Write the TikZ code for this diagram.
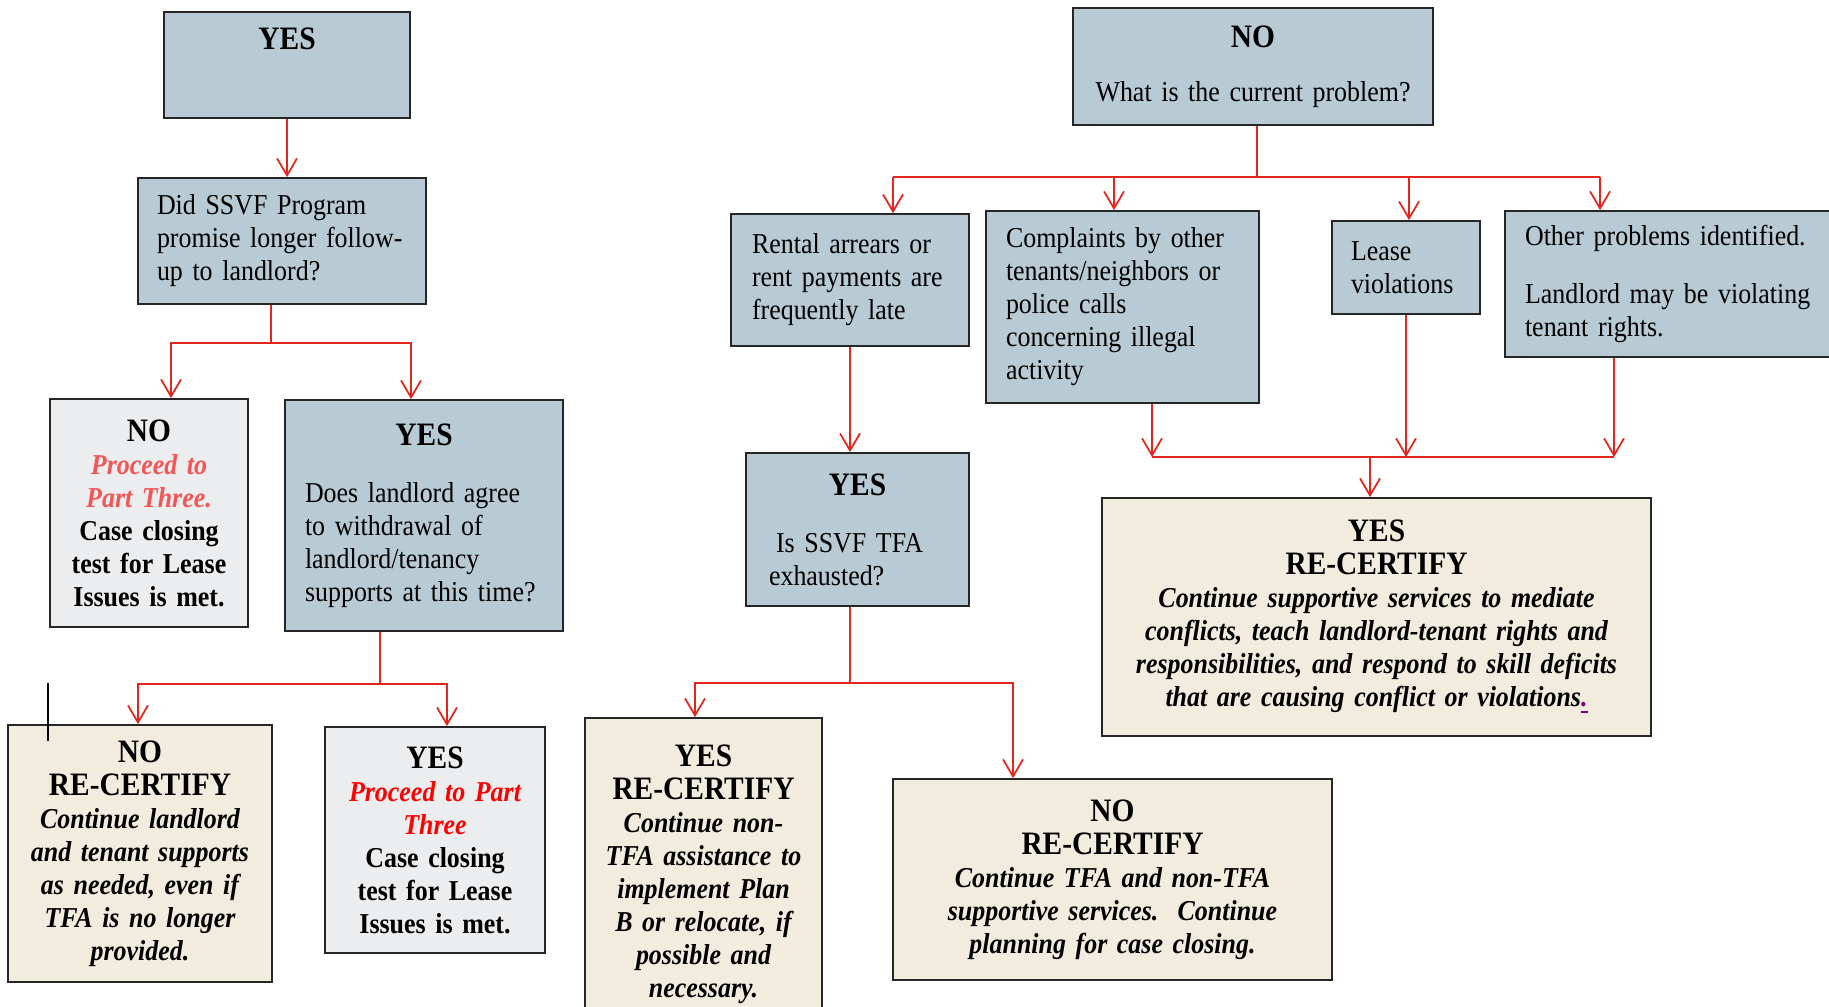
\documentclass[tikz,border=0pt]{standalone}
\usepackage{fontspec}
\setmainfont{Liberation Serif}[FakeStretch=0.9]
\usepackage{xcolor}
\usepackage{tikz}
\usetikzlibrary{arrows.meta}
\definecolor{askcolor}{RGB}{184, 202, 212}
\definecolor{endcolor}{RGB}{236, 237, 239}
\definecolor{recertcolor}{RGB}{241, 236, 221}
\definecolor{flowcolor}{RGB}{226, 38, 30}
\definecolor{softred}{RGB}{245, 85, 85}
\newcommand{\headtxt}[1]{{\fontsize{9.3}{9.4}\selectfont\bfseries #1}}

\begin{document}
\begin{tikzpicture}[x=0.1mm, y=-0.1mm,
    box/.style={draw=black!85, line width=0.5pt, inner ysep=0pt, font=\fontsize{8.2}{9.4}\selectfont},
    askbox/.style={box, fill=askcolor, align=left, inner xsep=2.1mm},
    endbox/.style={box, fill=endcolor, align=center, inner xsep=1mm},
    recertbox/.style={box, fill=recertcolor, align=center, inner xsep=1mm},
    flow/.style={draw=flowcolor, line width=0.5pt},
    >={Straight Barb[length=1.7mm, width=2mm]}]
        \useasboundingbox (0,0) rectangle (1829,1006);

        % Left branch: YES
        \node[askbox, align=center, inner xsep=1mm, text width=22.6mm, minimum height=10.6mm] (topyes) at (287,65) {\headtxt{YES}\\[1.9mm]\mbox{}};
        \node[askbox, inner xsep=1.9mm, text width=25mm, minimum height=12.6mm] (didssvf) at (282,241) {Did SSVF Program\\ promise longer follow-\\ up to landlord?};

        % Follow-up answers
        \node[endbox, text width=17.8mm, minimum height=22.8mm] (no1) at (149,513) {\headtxt{NO}\\ {\color{softred}\bfseries\itshape Proceed to\\ Part Three.}\\ {\bfseries Case closing\\ test for Lease\\ Issues is met.}};
        \node[askbox, inner xsep=2mm, text width=23.8mm, minimum height=23.1mm] (yes2) at (424,515.5) {\makebox[\linewidth][c]{\headtxt{YES}}\\[2.4mm] Does landlord agree\\ to withdrawal of\\ landlord/tenancy\\ supports at this time?};

        % Withdrawal answers
        \node[recertbox, text width=24.4mm, minimum height=25.7mm] (norecert) at (140,853.5) {\headtxt{NO}\\ \headtxt{RE-CERTIFY}\\ {\bfseries\itshape Continue landlord\\ and tenant supports\\ as needed, even if\\ TFA is no longer\\ provided.}};
        \node[endbox, text width=20mm, minimum height=22.6mm] (yesproceed) at (435,840) {\headtxt{YES}\\ {\color{red}\bfseries\itshape Proceed to Part\\ Three}\\ {\bfseries Case closing\\ test for Lease\\ Issues is met.}};

        % Right branch: NO
        \node[askbox, align=center, inner xsep=1mm, text width=34mm, minimum height=11.7mm] (notop) at (1253,66.5) {\headtxt{NO}\\[2.1mm] What is the current problem?};

        % Problems
        \node[askbox, text width=19.6mm, minimum height=13.2mm] (rental) at (850,280) {Rental arrears or\\ rent payments are\\ frequently late};
        \node[askbox, inner xsep=2mm, text width=23.3mm, minimum height=19.2mm] (complaints) at (1122.5,307) {Complaints by other\\ tenants/neighbors or\\ police calls\\ concerning illegal\\ activity};
        \node[askbox, inner xsep=1.9mm, text width=11mm, minimum height=9.3mm] (lease) at (1406,267.5) {Lease\\ violations};
        \node[askbox, inner xsep=2mm, text width=30mm, minimum height=14.6mm] (other) at (1675,284) {Other problems identified.\\[2.5mm] Landlord may be violating\\ tenant rights.};

        % TFA question and answers
        \node[askbox, inner xsep=2.3mm, text width=17.7mm, minimum height=15.3mm] (yestfa) at (857.5,529.5) {\makebox[\linewidth][c]{\headtxt{YES}}\\[2.4mm] \hspace*{0.7mm}Is SSVF TFA\\ exhausted?};
        \node[recertbox, text width=21.7mm, minimum height=31.2mm] (yesrecert) at (703.5,874) {\headtxt{YES}\\ \headtxt{RE-CERTIFY}\\ {\bfseries\itshape Continue non-\\ TFA assistance to\\ implement Plan\\ B or relocate, if\\ possible and\\ necessary.}};
        \node[recertbox, text width=41.9mm, minimum height=20.1mm] (norecert2) at (1112.5,879.5) {\headtxt{NO}\\ \headtxt{RE-CERTIFY}\\ {\bfseries\itshape Continue TFA and non-TFA\\ supportive services.\ \ Continue\\ planning for case closing.}};

        % Shared outcome
        \node[recertbox, text width=52.9mm, minimum height=23.8mm] (bigyes) at (1376.5,617) {\headtxt{YES}\\ \headtxt{RE-CERTIFY}\\ {\bfseries\itshape Continue supportive services to mediate\\ conflicts, teach landlord-tenant rights and\\ responsibilities, and respond to skill deficits\\ that are causing conflict or violations{\color{violet}\underline{.}}}};

        % Connections, left
        \draw[flow, ->] (topyes.south) -- (topyes.south |- didssvf.north);
        \coordinate (splitA) at (271,343);
        \coordinate (splitAl) at (171,343);
        \coordinate (splitAr) at (411,343);
        \draw[flow, ->] (didssvf.south -| splitA) -- (splitA) -- (splitAl) -- (splitAl |- no1.north);
        \draw[flow, ->] (splitA) -- (splitAr) -- (splitAr |- yes2.north);
        \coordinate (splitB) at (380,684);
        \coordinate (splitBl) at (138,684);
        \coordinate (splitBr) at (447,684);
        \draw[flow, ->] (yes2.south -| splitB) -- (splitB) -- (splitBl) -- (splitBl |- norecert.north);
        \draw[flow, ->] (splitB) -- (splitBr) -- (splitBr |- yesproceed.north);
        \draw[black, line width=0.6pt] (48,683) -- (48,741);

        % Connections, right
        \coordinate (splitC) at (1257,177);
        \draw[flow] (notop.south -| splitC) -- (splitC);
        \draw[flow] (893,177) -- (1600,177);
        \foreach \x/\n in {893/rental,1114/complaints,1409/lease,1600/other}
            \draw[flow, ->] (\x,177) -- (\x,177 |- \n.north);
        \draw[flow, ->] (rental.south) -- (rental.south |- yestfa.north);
        \coordinate (splitD) at (850,683);
        \coordinate (splitDl) at (695,683);
        \coordinate (splitDr) at (1013,683);
        \draw[flow, ->] (yestfa.south -| splitD) -- (splitD) -- (splitDl) -- (splitDl |- yesrecert.north);
        \draw[flow, ->] (splitD) -- (splitDr) -- (splitDr |- norecert2.north);
        \coordinate (joinE) at (1370,457);
        \foreach \x/\n in {1152/complaints,1406/lease,1614/other}
            \draw[flow, ->] (\x,457 |- \n.south) -- (\x,457);
        \draw[flow] (1152,457) -- (1614,457);
        \draw[flow, ->] (joinE) -- (joinE |- bigyes.north);
\end{tikzpicture}
\end{document}
